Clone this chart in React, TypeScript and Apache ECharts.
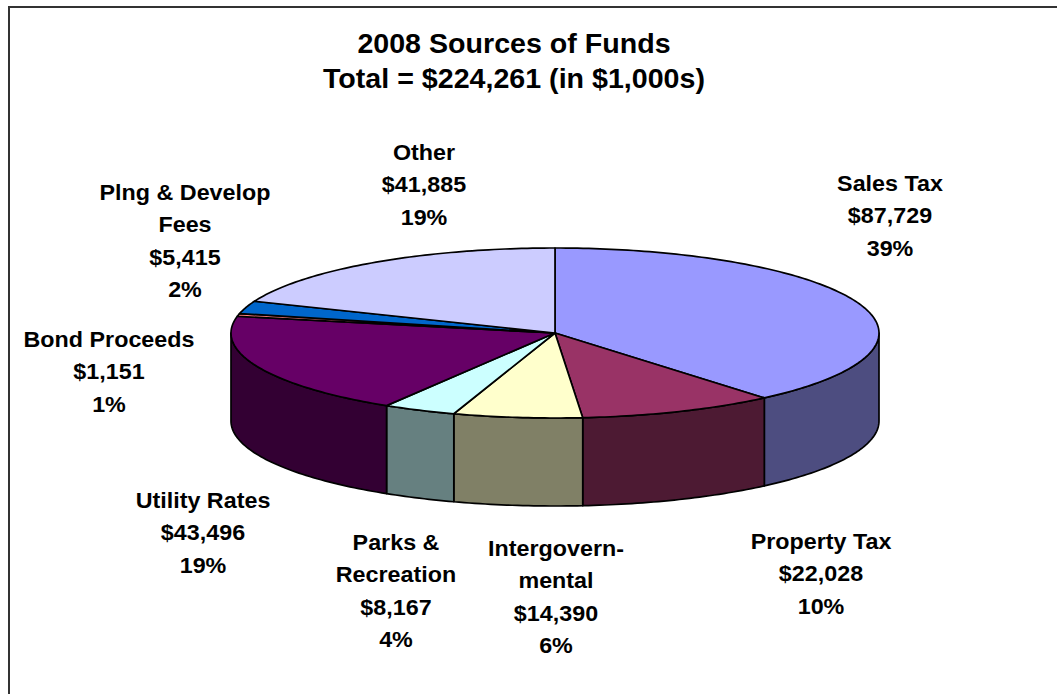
import React, { useEffect, useRef } from "react";
import * as echarts from "echarts";

const titleLines = ["2008 Sources of Funds", "Total = $224,261 (in $1,000s)"];
const categories = ["Sales Tax", "Property Tax", "Intergovern-\nmental", "Parks &\nRecreation", "Utility Rates", "Bond Proceeds", "Plng & Develop\nFees", "Other"];
const values = [87729, 22028, 14390, 8167, 43496, 1151, 5415, 41885];
const topColors = ["#9999FF", "#993366", "#FFFFCC", "#CCFFFF", "#660066", "#FF8080", "#0066CC", "#CCCCFF"];
const sideColors = ["#4D4D80", "#4D1A33", "#808066", "#668080", "#330033", "#804040", "#003366", "#666680"];
const labelCentres = [[890, 167], [821, 525], [556, 532], [396, 526], [203, 484], [109, 323], [185, 176], [424, 136]];

const CX = 555, CY = 333, RX = 324, RY = 85, DEPTH = 88;
const total = values.reduce((a, b) => a + b, 0);

// Slight perspective of the original 3D view: the front of the disc turns a little.
const view = (deg: number) => deg - 1.1 * Math.sqrt(Math.sin((deg * Math.PI) / 360));

const angles: number[][] = [];
values.reduce((acc, v) => {
  angles.push([view((acc / total) * 360), view(((acc + v) / total) * 360)]);
  return acc + v;
}, 0);

const pt = (deg: number, dy = 0) => {
  const r = (deg * Math.PI) / 180;
  return [CX + RX * Math.sin(r), CY - RY * Math.cos(r) + dy];
};
const arc = (a: number, b: number, dy = 0) => {
  const pts: number[][] = [];
  const n = Math.max(2, Math.ceil(Math.abs(b - a)));
  for (let i = 0; i <= n; i++) pts.push(pt(a + ((b - a) * i) / n, dy));
  return pts;
};
const money = (v: number) => "$" + v.toLocaleString("en-US");
const pct = (v: number) => Math.round((v / total) * 100) + "%";

const FONT = "'Liberation Sans', Arial, sans-serif";
const line = { stroke: "#000", lineWidth: 1.7, lineJoin: "round" as const };

export default function App() {
  const ref = useRef<HTMLDivElement>(null);
  useEffect(() => {
    const chart = echarts.init(ref.current!, undefined, { renderer: "svg" });
    chart.setOption({
      animation: false,
      backgroundColor: "#fff",
      graphic: [
        { type: "polyline", shape: { points: [[1057, 7], [9, 7], [9, 694]] }, style: { fill: "none", stroke: "#333", lineWidth: 2 }, silent: true },
        ...titleLines.map((t, i) => ({
          type: "text", x: 514, y: 44 + i * 35, scaleX: 1.06,
          style: { text: t, font: `bold 27px ${FONT}`, fill: "#000", textAlign: "center", textVerticalAlign: "middle" },
        })),
        ...categories.map((c, i) => ({
          type: "text", x: labelCentres[i][0], y: labelCentres[i][1], scaleX: 1.06,
          style: {
            text: `${c}\n${money(values[i])}\n${pct(values[i])}`,
            font: `bold 22px ${FONT}`, lineHeight: 32.3, fill: "#000", textAlign: "center", textVerticalAlign: "top",
          },
        })),
      ],
      series: [
        {
          type: "custom", coordinateSystem: "none", z: 1,
          data: angles.map((a, i) => [a[0], a[1], i]),
          renderItem: (_p: any, api: any) => {
            const s = Math.max(api.value(0), 90), e = Math.min(api.value(1), 270);
            if (e <= s) return { type: "group", children: [] };
            const points = [...arc(s, e), ...arc(e, s, DEPTH)];
            return { type: "polygon", shape: { points }, style: { fill: sideColors[api.value(2)], ...line } };
          },
        },
        {
          type: "custom", coordinateSystem: "none", z: 2,
          data: angles.map((a, i) => [a[0], a[1], i]),
          renderItem: (_p: any, api: any) => {
            const points = [[CX, CY], ...arc(api.value(0), api.value(1))];
            return { type: "polygon", shape: { points }, style: { fill: topColors[api.value(2)], ...line } };
          },
        },
      ],
    });
    return () => chart.dispose();
  }, []);
  return <div ref={ref} style={{ position: "fixed", left: 0, top: 0, width: 1057, height: 694 }} />;
}
